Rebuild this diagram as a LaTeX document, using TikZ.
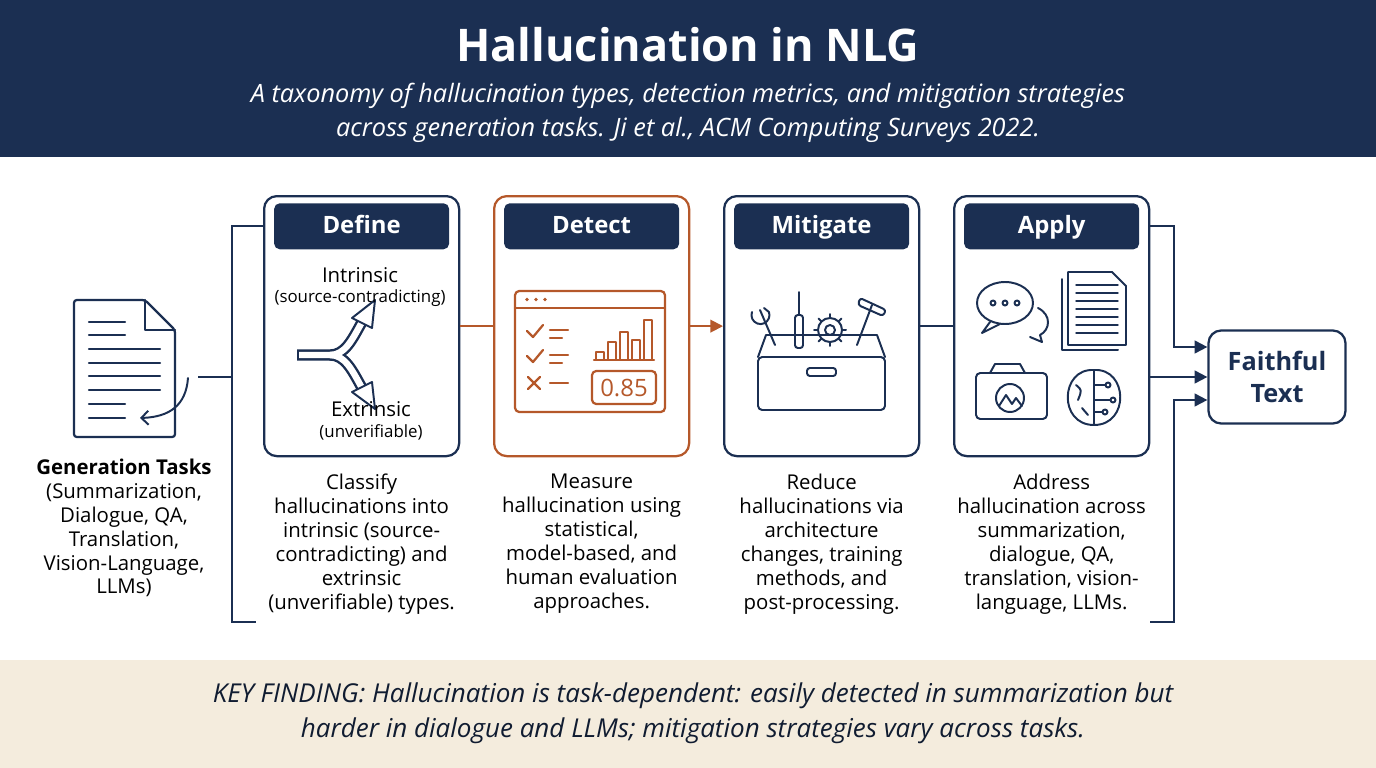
\documentclass[tikz,border=0pt]{standalone}
\usepackage{fontspec}
\setmainfont{Open Sans}
\usetikzlibrary{arrows.meta,positioning}
\definecolor{navy}{HTML}{1B2F52}
\definecolor{rust}{HTML}{B5582A}
\definecolor{sand}{HTML}{F4ECDD}
\tikzset{
  stage/.style={draw=navy,line width=1.6pt,rounded corners=9pt,minimum width=195*0.25mm,minimum height=260*0.25mm,anchor=north west},
  pill/.style={fill=navy,rounded corners=4pt,minimum width=175*0.25mm,minimum height=46*0.25mm,text=white,text height=13pt,text depth=3pt,font=\fontsize{17}{20}\selectfont\bfseries},
  desc/.style={align=center,text=black,font=\fontsize{14.5}{17}\selectfont,anchor=north},
  wire/.style={navy,line width=1.4pt},
  ico/.style={navy,line width=1.4pt,line join=round,line cap=round},
}
\begin{document}
\begin{tikzpicture}[x=0.25mm,y=-0.25mm]
\useasboundingbox (0,0) rectangle (1376,768);
% bands
\fill[navy] (0,0) rectangle (1376,157);
\fill[sand] (0,660) rectangle (1376,768);
\node[text=white,font=\fontsize{32}{36}\selectfont\bfseries] (title) at (688,45) {Hallucination in NLG};
\node[text=white,align=center,font=\fontsize{18}{24}\selectfont\itshape] (sub) at (688,113)
  {A taxonomy of hallucination types, detection metrics, and mitigation strategies\\across generation tasks. Ji et al., ACM Computing Surveys 2022.};
\node[text=navy!60!black,align=center,font=\fontsize{18.5}{25}\selectfont\itshape] (key) at (693,713)
  {KEY FINDING: Hallucination is task-dependent: easily detected in summarization but\\harder in dialogue and LLMs; mitigation strategies vary across tasks.};

% stages
\node[stage] (define) at (263,195) {};
\node[stage,draw=rust] (detect) at (493,195) {};
\node[stage] (mitigate) at (723,195) {};
\node[stage] (apply) at (953,195) {};
\node[pill,below=8*0.25mm of define.north] (pdefine) {Define};
\node[pill,below=8*0.25mm of detect.north] (pdetect) {Detect};
\node[pill,below=8*0.25mm of mitigate.north] (pmitigate) {Mitigate};
\node[pill,below=8*0.25mm of apply.north] (papply) {Apply};

\node[desc,below=12*0.25mm of define.south] (ddefine) {Classify\\hallucinations into\\intrinsic (source-\\contradicting) and\\extrinsic\\(unverifiable) types.};
\node[desc,below=12*0.25mm of detect.south] (ddetect) {Measure\\hallucination using\\statistical,\\model-based, and\\human evaluation\\approaches.};
\node[desc,below=12*0.25mm of mitigate.south] (dmitigate) {Reduce\\hallucinations via\\architecture\\changes, training\\methods, and\\post-processing.};
\node[desc,below=12*0.25mm of apply.south] (dapply) {Address\\hallucination across\\summarization,\\dialogue, QA,\\translation, vision-\\language, LLMs.};

% inputs and output
\node[desc] (tasks) at (124,454) {\textbf{Generation Tasks}\\(Summarization,\\Dialogue, QA,\\Translation,\\Vision-Language,\\LLMs)};
\node[draw=navy,line width=1.6pt,rounded corners=9pt,minimum width=137*0.25mm,minimum height=93*0.25mm,align=center,text=navy,
  font=\fontsize{18}{23}\selectfont\bfseries] (faithful) at (1277,377) {Faithful\\Text};

% document icon
\draw[ico,line width=1.6pt,rounded corners=2pt] (74,300) -- (145,300) -- (175,330) -- (175,437) -- (74,437) -- cycle;
\draw[ico,line width=1.6pt] (145,300) -- (145,330) -- (175,330);
\foreach \y/\l in {322/125,335/125,349/160,363/160,376/160,390/160,404/125,418/125}
  \draw[ico,line width=1.6pt] (89,\y) -- (\l,\y);
\draw[ico,-{Straight Barb[length=5pt]}] (188,378) .. controls (186,405) and (170,417) .. (140,418);
% define icon
\foreach \c in {navy,white}{
  \draw[\c,line width=\ifx\c\relax0pt\fi 0pt] (0,0);}
\draw[navy,line width=8pt,line cap=butt] (297,355) -- (330,355) .. controls (345,355) and (352,340) .. (362,322);
\draw[navy,line width=8pt,line cap=butt] (330,355) .. controls (345,355) and (352,370) .. (362,388);
\draw[white,line width=4.6pt,line cap=butt] (299,355) -- (330,355) .. controls (345,355) and (352,340) .. (362,322);
\draw[white,line width=4.6pt,line cap=butt] (330,355) .. controls (345,355) and (352,370) .. (362,388);
\draw[ico,fill=white] (352,318) -- (375,300) -- (372,328) -- cycle;
\draw[ico,fill=white] (352,392) -- (375,409) -- (372,382) -- cycle;
\node[font=\fontsize{14.5}{16}\selectfont] (intr) at (360,275) {Intrinsic};
\node[font=\fontsize{12}{14}\selectfont] (intrs) at (360,298) {(source-contradicting)};
\node[font=\fontsize{14.5}{16}\selectfont] (extr) at (371,409) {Extrinsic};
\node[font=\fontsize{12}{14}\selectfont] (extrs) at (371,432) {(unverifiable)};
% detect icon
\begin{scope}[rust,line width=1.6pt,line cap=round,line join=round]
\draw[rounded corners=3pt] (515,291) rectangle (665,412);
\draw (515,308) -- (665,308);
\foreach \x in {527,536,545} \fill (\x,299.5) circle (1.8);
\draw (527,331) -- (533,337) -- (543,325); \draw (550,330) -- (568,330); \draw (550,338) -- (562,338);
\draw (527,356) -- (533,362) -- (543,350); \draw (550,355) -- (568,355); \draw (550,363) -- (562,363);
\draw (528,377) -- (540,389); \draw (540,377) -- (528,389); \draw (550,383) -- (568,383);
\draw (594,360) -- (654,360);
\foreach \x/\h in {600/8,612/18,624/28,636/20,648/40} \draw (\x-4,360) rectangle (\x+4,360-\h);
\draw[rounded corners=3pt] (592,371) rectangle (656,404);
\node[font=\fontsize{17}{20}\selectfont] (score) at (624,388) {0.85};
\end{scope}
% mitigate icon
\draw[ico,rounded corners=3pt] (758,357) rectangle (885,410);
\draw[ico] (758,357) -- (766,335) -- (877,335) -- (885,357);
\draw[ico,rounded corners=2pt] (807,368) rectangle (836,376);
\draw[ico] (775,345) -- (760,310);
\draw[ico] (752,312) arc (200:-20:9) -- (764,308);
\draw[ico,rounded corners=2pt] (795,348) rectangle (803,315);
\draw[ico] (799,315) -- (799,292);
\draw[ico] (830,330) circle (12); \draw[ico] (830,330) circle (5);
\foreach \a in {0,45,...,315} \draw[ico] (830,330) ++(\a:12) -- ++(\a:4);
\draw[ico] (857,345) -- (872,305); \draw[ico,rounded corners=2pt] (860,298) -- (886,310) -- (883,316) -- (858,305) -- cycle;
% apply icons
\draw[ico] (1005,303) ellipse (28 and 21);
\draw[ico] (990,322) -- (982,333) -- (1000,324);
\foreach \x in {993,1005,1017} \draw[ico] (\x,303) circle (2.5);
\draw[ico] (1038,308) .. controls (1052,315) and (1050,330) .. (1040,335) -- (1042,342) -- (1030,337);
\draw[ico] (1062,279) -- (1062,350) -- (1118,350);
\draw[ico] (1068,272) -- (1112,272) -- (1126,286) -- (1126,345) -- (1068,345) -- cycle;
\foreach \y in {285,293,301,309,317,325,333} \draw[ico,line width=1pt] (1076,\y) -- (1118,\y);
\draw[ico,rounded corners=3pt] (976,373) rectangle (1047,419);
\draw[ico] (990,373) -- (995,364) -- (1020,364) -- (1025,373);
\draw[ico] (1010,398) circle (14);
\draw[ico] (999,406) -- (1006,395) -- (1012,404) -- (1016,398) -- (1022,406);
\draw[ico] (1094,370) .. controls (1060,368) and (1058,425) .. (1094,425);
\draw[ico] (1094,370) .. controls (1128,368) and (1130,425) .. (1094,425);
\draw[ico] (1094,370) -- (1094,425);
\draw[ico] (1094,385) -- (1108,385) (1094,400) -- (1113,400) (1094,412) -- (1105,412);
\foreach \p in {(1108,385),(1113,400),(1105,412)} \draw[ico,fill=white] \p circle (2.5);
\draw[ico] (1076,385) .. controls (1082,390) .. (1078,400) (1082,408) -- (1088,415);

% connectors
\coordinate (docout) at (198,377);
\coordinate (lbus) at (232,377);
\draw[wire] (docout) -- (lbus);
\draw[wire] (define.north west |- 0,226) -- (232,226) -- (232,622) -- (256,622);
\draw[rust,line width=1.4pt] (define.east) -- (detect.west);
\draw[rust,line width=1.4pt,-{Triangle[length=9pt,width=9pt]}] (detect.east) -- (mitigate.west);
\draw[wire] (mitigate.east) -- (apply.west);
\draw[wire,-{Triangle[length=9pt,width=9pt]}] (apply.north east |- 0,226) -- (1174,226) |- (faithful.west |- 0,347);
\draw[wire,-{Triangle[length=9pt,width=9pt]}] (apply.east |- 0,377) -- (faithful.west);
\draw[wire,-{Triangle[length=9pt,width=9pt]}] (1150,622) -- (1174,622) |- (faithful.west |- 0,400);
\end{tikzpicture}
\end{document}
